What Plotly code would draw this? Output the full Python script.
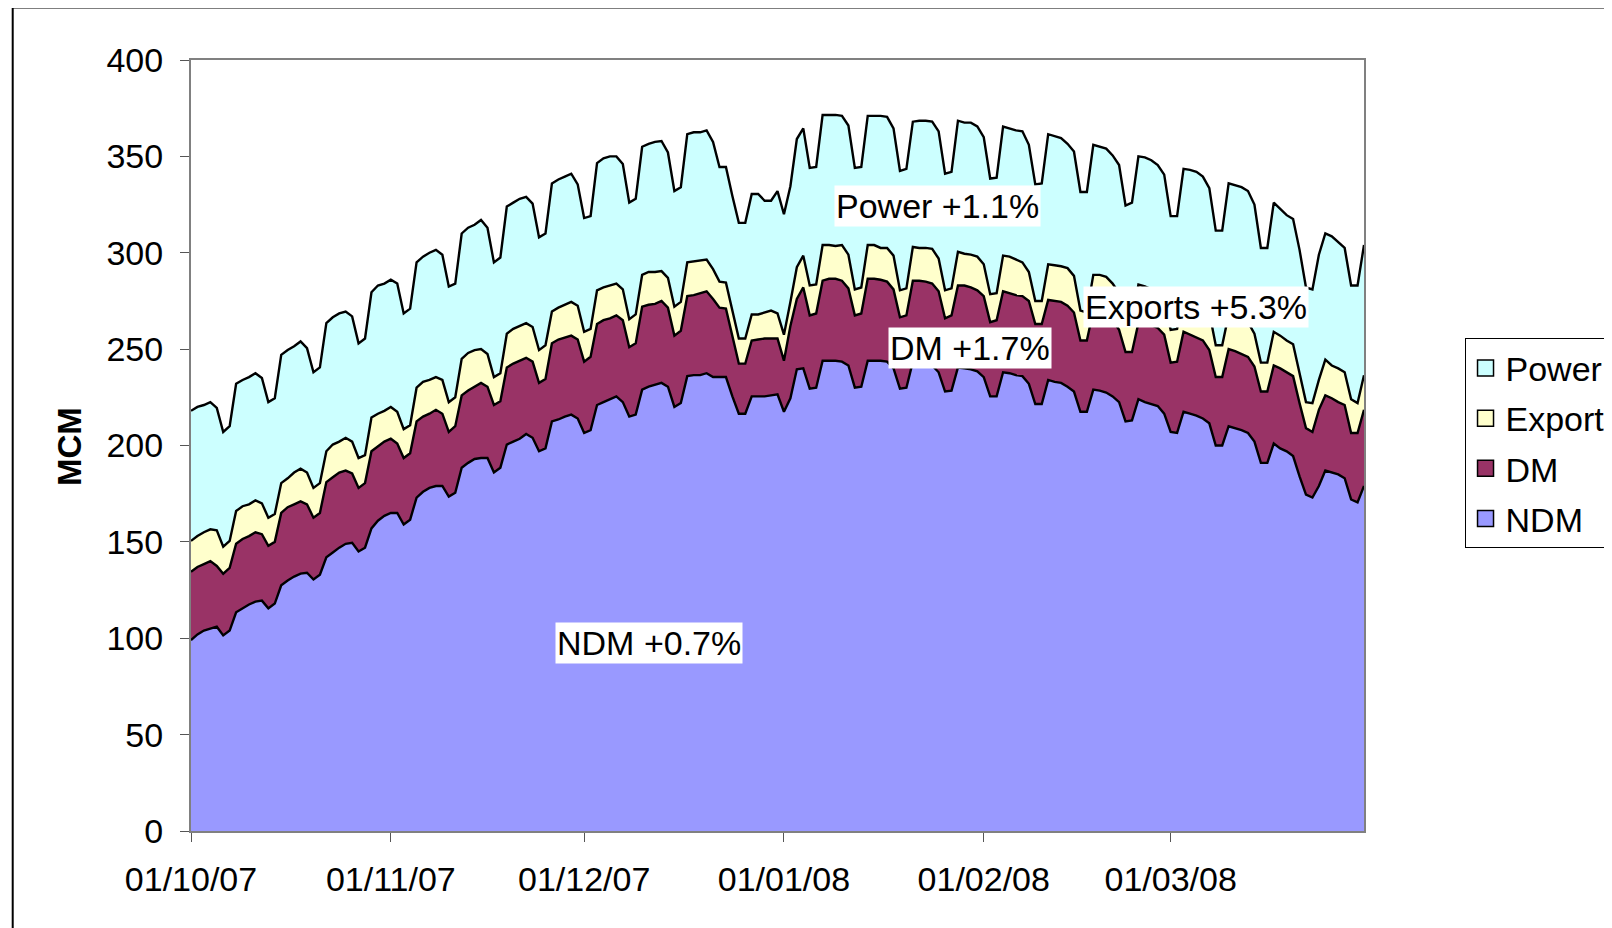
import pandas as pd
import plotly.graph_objs as go

dates = pd.date_range("2007-10-01", "2008-03-31", freq="D")

ndm_top = [
    99, 102, 104, 105, 106, 101.5, 104,
    113.5, 115.5, 117.5, 119, 119.5, 115.5, 118,
    127.5, 130, 132, 133.5, 134, 130.5, 133,
    142, 144.5, 147, 149, 149.5, 145, 147,
    157, 161, 163.5, 165, 165, 159, 161.5,
    173, 176, 178, 179, 179, 173.5, 175.5,
    188.5, 191, 193, 193.5, 193.5, 186, 188.5,
    200.5, 202, 203.5, 206, 204, 197, 198.5,
    212.5, 213.5, 215, 216, 214, 206.5, 208,
    221, 222.5, 224, 225.5, 222.5, 215, 216,
    229, 230.5, 231.5, 232.5, 230.5, 220, 222,
    236, 236.5, 236.5, 237.5, 235.5, 235.5, 235.5,
    225.5, 216.5, 216.5, 225.5, 225.5, 225.5, 226,
    226.5, 217.5, 224.5, 239.5, 240, 229.5, 230,
    244, 244, 244, 243.5, 241.5, 230, 230.5,
    244, 244, 244, 243.5, 240, 229.5, 230,
    243.5, 243.5, 242.5, 241.5, 238, 228, 228.5,
    240.5, 240, 239.5, 238.5, 235.5, 225.5, 225.5,
    238, 237.5, 236.5, 236, 232, 221.5, 221.5,
    234, 233, 232.5, 230.5, 228, 217.5, 217.5,
    229, 228.5, 227.5, 225.5, 222.5, 212.5, 213,
    224, 222.5, 221.5, 220.5, 216.5, 207, 206.5,
    217.5, 216.5, 215.5, 214, 211.5, 200, 200,
    210, 209, 208, 206.5, 202, 191, 191,
    201, 198.5, 197, 194.5, 184, 174.5, 173,
    179, 187, 186, 185, 183, 172, 170.5,
    179]

dm_top = [
    134.5, 137, 138.5, 140, 137.5, 133.5, 136.5,
    149, 151.5, 153, 155, 154, 148, 150,
    165, 168, 169.5, 171, 169.5, 162.5, 165,
    181, 183.5, 186, 187, 185.5, 178, 180.5,
    197, 199.5, 202, 203.5, 201, 193.5, 196,
    212.5, 215, 216.5, 218.5, 216.5, 207, 210,
    226, 228.5, 230.5, 232.5, 230.5, 221, 223,
    240.5, 242.5, 244, 245.5, 243.5, 232.5, 234.5,
    253, 255, 256, 257, 255, 243.5, 246,
    263, 265, 266, 267.5, 265, 251, 253,
    272, 273, 273.5, 275, 271.5, 257, 259.5,
    277.5, 278, 279, 280, 276, 271.5, 271,
    257, 242.5, 242.5, 254.5, 255, 255.5, 255.5,
    255.5, 244, 262, 276, 282, 267.5, 268.5,
    285.5, 286.5, 286.5, 285.5, 281.5, 267.5, 268.5,
    286.5, 286.5, 286, 285, 281, 266.5, 267.5,
    285.5, 285.5, 285, 284, 280, 266, 267.5,
    283, 283, 282, 280.5, 277.5, 264, 265,
    280, 279, 278, 277.5, 275, 263, 263,
    275.5, 275, 274.5, 272.5, 269, 254.5, 254.5,
    270, 268.5, 266.5, 265, 260, 248.5, 248.5,
    263.5, 262.5, 262.5, 261, 257.5, 243, 243.5,
    259, 257.5, 256, 254.5, 249.5, 235.5, 235.5,
    250, 249, 247.5, 246, 241, 228, 228,
    241.5, 240, 238, 236, 222, 209, 207,
    218.5, 226, 224.5, 222.5, 221, 206.5, 206.5,
    218.5]

export_top = [
    150.5, 153, 155, 156.5, 156, 147.5, 150.5,
    166, 168.5, 169.5, 171.5, 170, 162.5, 164.5,
    180.5, 183, 186, 188, 186, 178, 180.5,
    197, 200.5, 202, 204, 202, 193.5, 195,
    214.5, 216.5, 218, 220, 217.5, 208.5, 210.5,
    230, 233, 234, 235.5, 234, 222.5, 225,
    245, 248, 249.5, 250, 247.5, 235.5, 237.5,
    258, 260.5, 262, 263.5, 261.5, 249.5, 252,
    269.5, 271.5, 273, 274.5, 272.5, 259, 260.5,
    280.5, 282, 283, 284, 281, 265.5, 268,
    288.5, 290, 290, 290.5, 287, 272, 274.5,
    295, 295.5, 296, 296.5, 291.5, 285, 284.5,
    270, 255.5, 255.5, 268, 268, 269, 270,
    268.5, 257.5, 274.5, 292.5, 298.5, 283, 283.5,
    304, 304, 303.5, 304, 299, 281, 282,
    304, 304, 302.5, 302.5, 298.5, 280.5, 281.5,
    303, 302.5, 302.5, 302, 297, 280.5, 281.5,
    300.5, 299.5, 299, 298, 294, 278.5, 279,
    298.5, 298, 296.5, 295, 290, 275, 275,
    294, 293.5, 293, 292, 288, 270, 269,
    288.5, 288.5, 287.5, 284, 279, 263, 263.5,
    283.5, 282.5, 281, 279.5, 275, 260, 260.5,
    279, 277.5, 276, 274, 269, 252, 252,
    268, 267, 265.5, 264, 258, 243, 243,
    259, 257, 254.5, 252.5, 237.5, 222.5, 222,
    234, 244.5, 241.5, 240, 238, 224, 222,
    236.5]

power_top = [
    218, 220, 221, 222.5, 219.5, 207, 210,
    232, 234, 235.5, 237.5, 235, 222.5, 224.5,
    247, 249.5, 251.5, 254, 250.5, 238, 240.5,
    263.5, 266.5, 268.5, 269.5, 267, 253, 255.5,
    279.5, 283, 284, 286, 284, 268.5, 271,
    295, 298, 300, 301.5, 299, 282.5, 284,
    310, 313, 314.5, 317, 313, 295, 297.5,
    324, 326, 328, 329, 325.5, 308, 310,
    336, 338, 339.5, 341, 335.5, 318, 319,
    346.5, 349, 350, 350, 346, 326, 328,
    355, 356.5, 357.5, 358, 352, 332, 334,
    361.5, 362.5, 362.5, 363.5, 357.5, 344.5, 344.5,
    329.5, 315.5, 315.5, 330.5, 330.5, 327, 327,
    332, 320, 334.5, 359, 364.5, 344, 344.5,
    371.5, 371.5, 371.5, 371, 366, 344, 344.5,
    371, 371, 371, 370.5, 364.5, 342.5, 343.5,
    368, 368.5, 368.5, 368, 363, 341, 342,
    368.5, 367.5, 367.5, 365.5, 360, 338.5, 339,
    365.5, 364.5, 363.5, 363, 356, 335.5, 336,
    361.5, 360.5, 359.5, 356.5, 352.5, 331.5, 331.5,
    356, 355, 354, 350.5, 345.5, 324.5, 326,
    350, 349.5, 348, 345.5, 340.5, 319, 319,
    343.5, 343, 342, 339.5, 333.5, 311.5, 311.5,
    336, 335, 334, 332, 325, 302.5, 302.5,
    326, 323, 319.5, 317.5, 301.5, 282, 281,
    299, 310, 308.5, 305.5, 302.5, 283, 283,
    304]

names = ["NDM", "DM", "Export", "Power"]
colors = ["#9999FF", "#993366", "#FFFFCC", "#CCFFFF"]
tops = [ndm_top, dm_top, export_top, power_top]

# band labels: text, x (paper), y (paper)
labels = ["Power +1.1%", "Exports +5.3%", "DM +1.7%", "NDM +0.7%"]
label_x = [0.636, 0.857, 0.6645, 0.3906]
label_y = [0.811, 0.680, 0.627, 0.2443]

FONT = "Liberation Sans, Arial, sans-serif"

data = []
for i in range(len(names)):
    # filled band, outlined in black along its top
    trace = go.Scatter(x = dates, y = tops[i], name = names[i], mode = "lines",
                       line = dict(color = "black", width = 2.4),
                       fill = "tozeroy" if i == 0 else "tonexty",
                       fillcolor = colors[i], showlegend = False, hoverinfo = "x+y+name")
    data.append(trace)

# legend entries drawn as boxed squares, like the Excel legend (top band first)
for i in reversed(range(len(names))):
    key = go.Scatter(x = [None], y = [None], name = names[i], mode = "markers",
                     marker = dict(symbol = "square", size = 18, color = colors[i],
                                   line = dict(color = "black", width = 1.5)),
                     legendgroup = names[i], showlegend = True)
    data.append(key)

layout = go.Layout(
    width = 1612, height = 928,
    paper_bgcolor = "white", plot_bgcolor = "white",
    font = dict(family = FONT, size = 34, color = "black"),
    margin = dict(l = 183, r = 256, t = 52, b = 105, autoexpand = False),
    showlegend = True,
    legend = dict(x = 1.0857, y = 0.639, xanchor = "left", yanchor = "top",
                  traceorder = "grouped", tracegroupgap = 3, bgcolor = "white",
                  bordercolor = "black", borderwidth = 1,
                  font = dict(size = 34)),
    xaxis = dict(range = ["2007-10-01", "2008-03-31"], tick0 = "2007-10-01", dtick = "M1",
                 tickformat = "%d/%m/%y", ticks = "outside", ticklen = 9, tickcolor = "#555",
                 ticklabelstandoff = 8, showgrid = False, zeroline = False,
                 showline = True, linecolor = "#808080", linewidth = 2, mirror = True),
    yaxis = dict(range = [0, 400], dtick = 50, ticks = "outside", ticklen = 9, tickcolor = "#555",
                 ticklabelstandoff = 10, showgrid = False, zeroline = False,
                 showline = True, linecolor = "#808080", linewidth = 2, mirror = True),
)

fig = go.Figure(data = data, layout = layout)

for i in range(len(labels)):
    fig.add_annotation(x = label_x[i], y = label_y[i], xref = "paper", yref = "paper",
                       xanchor = "center", yanchor = "middle",
                       text = labels[i], showarrow = False, bgcolor = "white",
                       borderpad = 1, font = dict(size = 34))

fig.add_annotation(x = -0.104, y = 0.498, xref = "paper", yref = "paper", text = "<b>MCM</b>",
                   xanchor = "center", yanchor = "middle",
                   textangle = -90, showarrow = False, font = dict(size = 33))

# outer chart border (runs off the right and bottom of the picture)
fig.add_shape(type = "rect", xref = "paper", yref = "paper", x0 = -0.152, x1 = 1.3,
              y0 = -0.16, y1 = 1.068, line = dict(color = "black", width = 2))

fig.write_html("out.html")
